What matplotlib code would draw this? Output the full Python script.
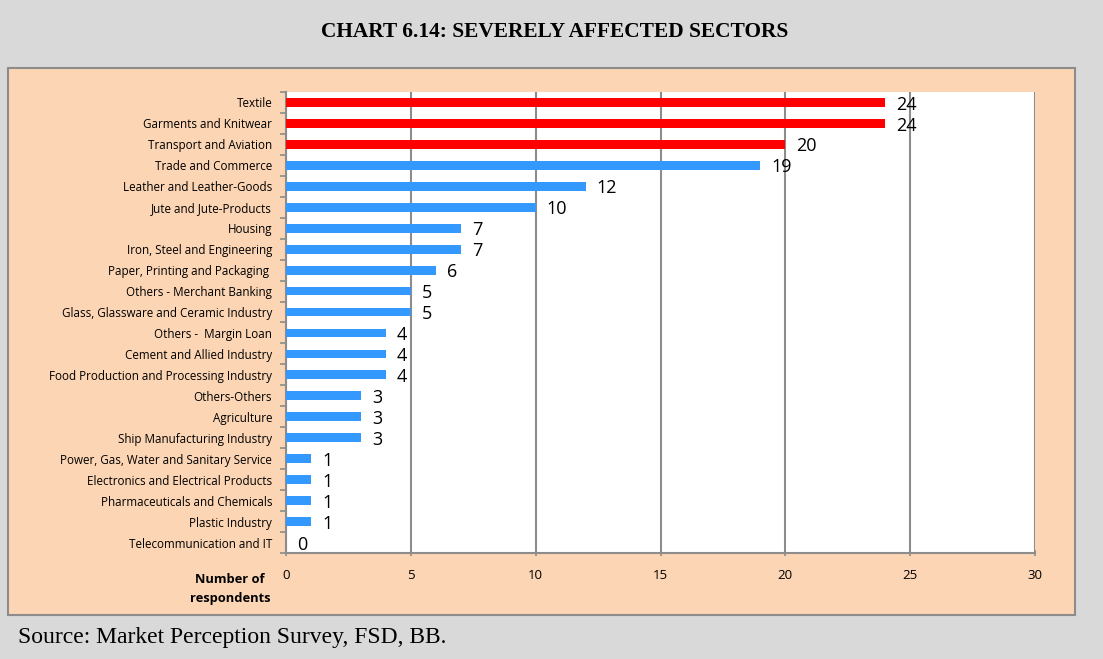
import numpy as np
import matplotlib.pyplot as plt
from matplotlib.patches import Rectangle

sectors = ['Textile', 'Garments and Knitwear', 'Transport and Aviation',
           'Trade and Commerce', 'Leather and Leather-Goods',
           'Jute and Jute-Products', 'Housing', 'Iron, Steel and Engineering',
           'Paper, Printing and Packaging ', 'Others - Merchant Banking',
           'Glass, Glassware and Ceramic Industry', 'Others -  Margin Loan',
           'Cement and Allied Industry', 'Food Production and Processing Industry',
           'Others-Others', 'Agriculture', 'Ship Manufacturing Industry',
           'Power, Gas, Water and Sanitary Service',
           'Electronics and Electrical Products', 'Pharmaceuticals and Chemicals',
           'Plastic Industry', 'Telecommunication and IT']
respondents = [24, 24, 20, 19, 12, 10, 7, 7, 6, 5, 5, 4, 4, 4, 3, 3, 3, 1, 1, 1, 1, 0]
highlight = [True, True, True] + [False] * 19

fig = plt.figure(figsize=(11.03, 6.59), dpi=100)
fig.patch.set_facecolor('#d9d9d9')

# peach panel behind the chart
panel = Rectangle((8 / 1103, 1 - 615 / 659), 1067 / 1103, 547 / 659,
                  transform=fig.transFigure, facecolor='#fcd5b4',
                  edgecolor='#8c8c8c', linewidth=1.5, zorder=-10)
fig.patches.append(panel)

ax = fig.add_axes([286 / 1103, 1 - 553 / 659, 749 / 1103, 461 / 659])
ax.set_zorder(2)
ax.set_facecolor('white')

ind = np.arange(len(sectors))
colors = ['#ff0000' if h else '#3399ff' for h in highlight]
bars = ax.barh(ind, respondents, 0.42, color=colors, zorder=3)

ax.set_xlim(0, 30)
ax.set_ylim(len(sectors) - 0.5, -0.5)
ax.set_xticks(np.arange(0, 31, 5))
ax.grid(axis='x', color='#8c8c8c', linewidth=1.5, zorder=1)

ax.set_yticks(ind)
ax.set_yticklabels(sectors, fontsize=8.4, family='Open Sans')
ax.tick_params(axis='y', length=0, pad=10)
ax.set_yticks(np.arange(-0.5, len(sectors), 1), minor=True)
ax.tick_params(axis='y', which='minor', length=4, color='#8c8c8c', width=1.2)
ax.tick_params(axis='x', length=5, color='#8c8c8c', width=1.2, direction='inout',
               labelsize=9.5, pad=9)
for lab in ax.get_xticklabels():
    lab.set_family('Open Sans')

for s in ['top', 'right']:
    ax.spines[s].set_visible(False)
ax.spines['left'].set_color('#8c8c8c')
ax.spines['left'].set_linewidth(1.5)
ax.spines['bottom'].set_color('#8c8c8c')
ax.spines['bottom'].set_linewidth(1.5)

for rect, v in zip(bars, respondents):
    ax.text(v + 0.45, rect.get_y() + rect.get_height() / 2 + 0.1, str(v),
            ha='left', va='center', fontsize=13, family='Open Sans', zorder=4)

fig.text(230 / 1103, 1 - 589 / 659, 'Number of\nrespondents', ha='center',
         va='center', fontsize=9.3, fontweight='bold', family='Open Sans',
         linespacing=1.55)

fig.text(555 / 1103, 1 - 32 / 659, 'CHART 6.14: SEVERELY AFFECTED SECTORS',
         ha='center', va='center', fontsize=15.4, fontweight='bold',
         family='Liberation Serif')
fig.text(18 / 1103, 1 - 638 / 659, 'Source: Market Perception Survey, FSD, BB.',
         ha='left', va='center', fontsize=17, family='Liberation Serif')

fig.savefig('out.png', dpi=100, facecolor=fig.get_facecolor())
